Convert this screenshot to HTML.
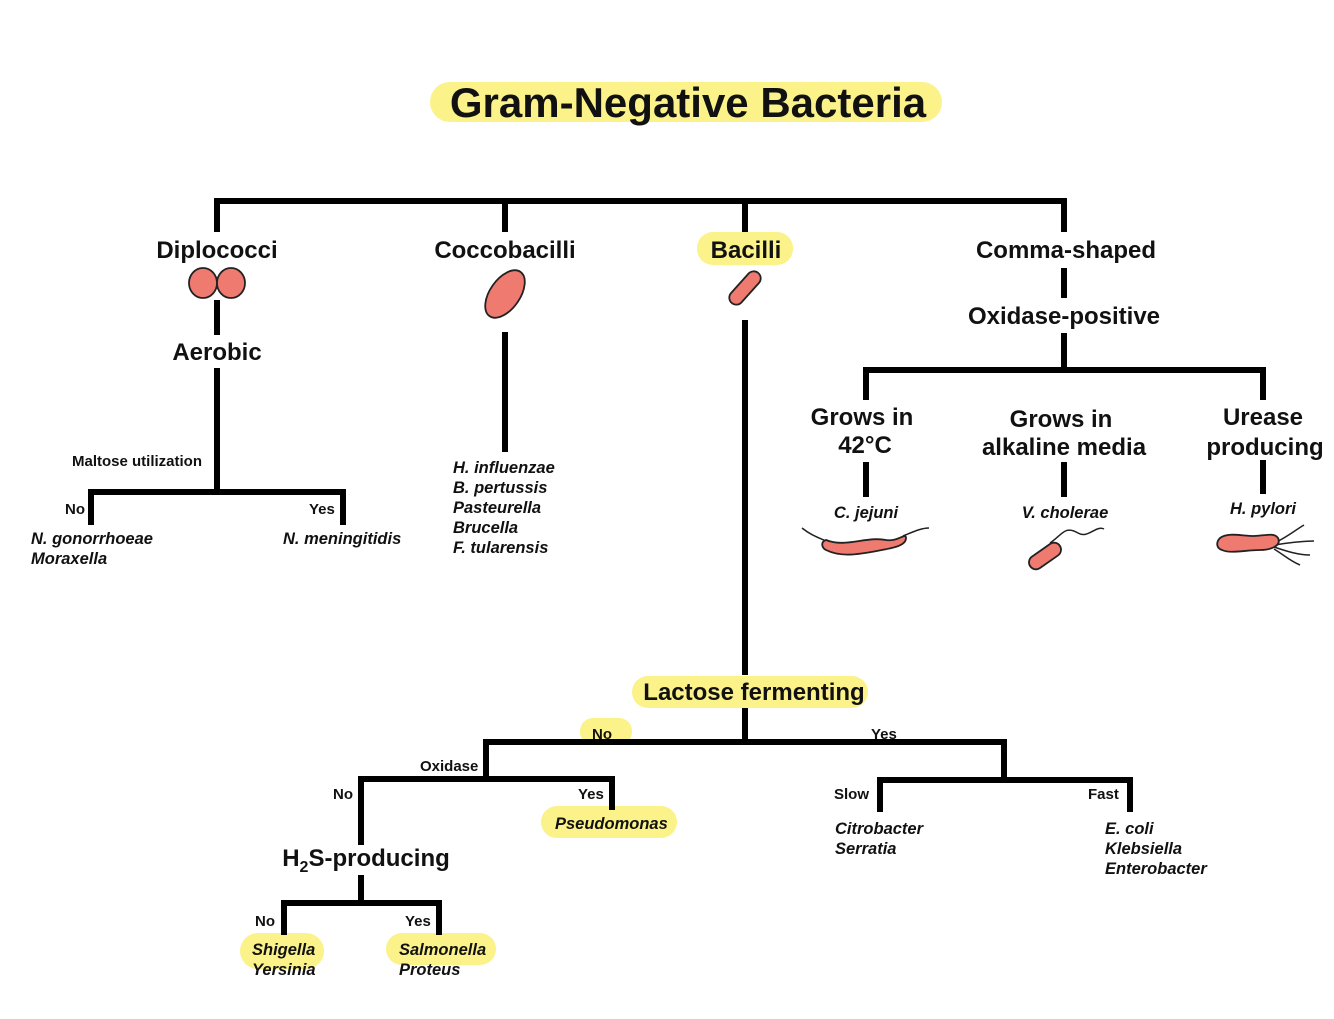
<!DOCTYPE html>
<html><head><meta charset="utf-8"><style>
html,body{margin:0;padding:0;background:#fff}
svg{display:block}
text{font-family:"Liberation Sans",Arial,sans-serif;fill:#111}
.h{font-size:24px;font-weight:bold;text-anchor:middle}
.s{font-size:15px;font-weight:bold}
.i{font-size:16.5px;font-weight:bold;font-style:italic}
.hl{fill:#fbf28a}
.b{fill:#ee7a70;stroke:#222;stroke-width:1.8}
</style></head><body>
<svg width="1334" height="1019" viewBox="0 0 1334 1019">
<rect class="hl" x="430" y="82" width="512" height="40" rx="20"/>
<rect class="hl" x="697" y="232" width="96" height="33" rx="16"/>
<rect class="hl" x="632" y="676" width="236" height="32" rx="16"/>
<rect class="hl" x="580" y="718" width="52" height="27" rx="13"/>
<rect class="hl" x="541" y="806" width="136" height="32" rx="16"/>
<rect class="hl" x="240" y="933" width="84" height="36" rx="18"/>
<rect class="hl" x="386" y="933" width="110" height="32" rx="16"/>

<g stroke="#000" stroke-width="6" fill="none" stroke-linecap="butt">
<path d="M217 232V201H1064V232M505 201V232M745 201V232"/>
<path d="M217 300V335M217 368V492M91 525V492H343V525"/>
<path d="M505 332V452"/>
<path d="M745 320V675M745 708V742M486 778V742H1004V778"/>
<path d="M361 845V779H612V810"/>
<path d="M361 875V903M284 935V903H439V935"/>
<path d="M880 812V780H1130V812"/>
<path d="M1064 268V298M1064 333V370M866 400V370H1263V400"/>
<path d="M866 462V497M1064 462V497M1263 460V494"/>
</g>

<text x="688" y="117" style="font-size:42px;font-weight:bold;text-anchor:middle">Gram-Negative Bacteria</text>
<text class="h" x="217" y="258">Diplococci</text>
<text class="h" x="505" y="258">Coccobacilli</text>
<text class="h" x="746" y="258">Bacilli</text>
<text class="h" x="1066" y="258">Comma-shaped</text>
<text class="h" x="217" y="360">Aerobic</text>
<text class="h" x="1064" y="324">Oxidase-positive</text>
<text class="h" x="862" y="425">Grows in</text>
<text class="h" x="865" y="453">42°C</text>
<text class="h" x="1061" y="427">Grows in</text>
<text class="h" x="1064" y="455">alkaline media</text>
<text class="h" x="1263" y="425">Urease</text>
<text class="h" x="1265" y="455">producing</text>
<text class="h" x="754" y="700">Lactose fermenting</text>
<text class="h" x="366" y="866">H<tspan dy="6" font-size="16">2</tspan><tspan dy="-6">S-producing</tspan></text>

<text class="s" x="72" y="466">Maltose utilization</text>
<text class="s" x="65" y="514">No</text>
<text class="s" x="309" y="514">Yes</text>
<text class="i" x="31" y="544">N. gonorrhoeae</text>
<text class="i" x="31" y="564">Moraxella</text>
<text class="i" x="283" y="544">N. meningitidis</text>
<text class="i" x="453" y="473">H. influenzae</text>
<text class="i" x="453" y="493">B. pertussis</text>
<text class="i" x="453" y="513">Pasteurella</text>
<text class="i" x="453" y="533">Brucella</text>
<text class="i" x="453" y="553">F. tularensis</text>
<text class="i" x="866" y="518" text-anchor="middle">C. jejuni</text>
<text class="i" x="1065" y="518" text-anchor="middle">V. cholerae</text>
<text class="i" x="1263" y="514" text-anchor="middle">H. pylori</text>

<text class="s" x="592" y="739">No</text>
<text class="s" x="871" y="739">Yes</text>
<text class="s" x="420" y="771">Oxidase</text>
<text class="s" x="333" y="799">No</text>
<text class="s" x="578" y="799">Yes</text>
<text class="i" x="555" y="829">Pseudomonas</text>
<text class="s" x="255" y="926">No</text>
<text class="s" x="405" y="926">Yes</text>
<text class="i" x="252" y="955">Shigella</text>
<text class="i" x="252" y="975">Yersinia</text>
<text class="i" x="399" y="955">Salmonella</text>
<text class="i" x="399" y="975">Proteus</text>
<text class="s" x="834" y="799">Slow</text>
<text class="s" x="1088" y="799">Fast</text>
<text class="i" x="835" y="834">Citrobacter</text>
<text class="i" x="835" y="854">Serratia</text>
<text class="i" x="1105" y="834">E. coli</text>
<text class="i" x="1105" y="854">Klebsiella</text>
<text class="i" x="1105" y="874">Enterobacter</text>

<ellipse class="b" cx="203" cy="283" rx="14" ry="15"/>
<ellipse class="b" cx="231" cy="283" rx="14" ry="15"/>
<ellipse class="b" cx="505" cy="294" rx="15" ry="27" transform="rotate(35 505 294)"/>
<rect class="b" x="738" y="268" width="14" height="40" rx="7" transform="rotate(42 745 288)"/>
<g fill="none" stroke="#222" stroke-width="1.5">
<path d="M802 528c10 8 18 10 26 14M903 536c10-4 18-8 26-8"/>
<path d="M1050 543c12-8 15-18 28-10c10 6 18-8 26-4"/>
<path d="M1274 543c10-4 20-12 30-18M1274 545c14-2 26-4 40-4M1274 547c12 4 24 8 36 8M1274 549c10 6 16 12 26 16"/>
</g>
<path class="b" d="M826 540c20 8 40-4 60 0c12 2 20-8 20-2c0 8-14 10-24 12c-22 4-40 8-56 0c-4-2-6-8 0-10z"/>
<rect class="b" x="1038" y="538" width="14" height="36" rx="7" transform="rotate(55 1045 556)"/>
<path class="b" d="M1220 538c8-6 22-2 34-2c10 0 20-4 24 2c4 8-8 12-18 12c-14 0-30 4-38 0c-6-2-6-8-2-12z"/>
</svg>
</body></html>
